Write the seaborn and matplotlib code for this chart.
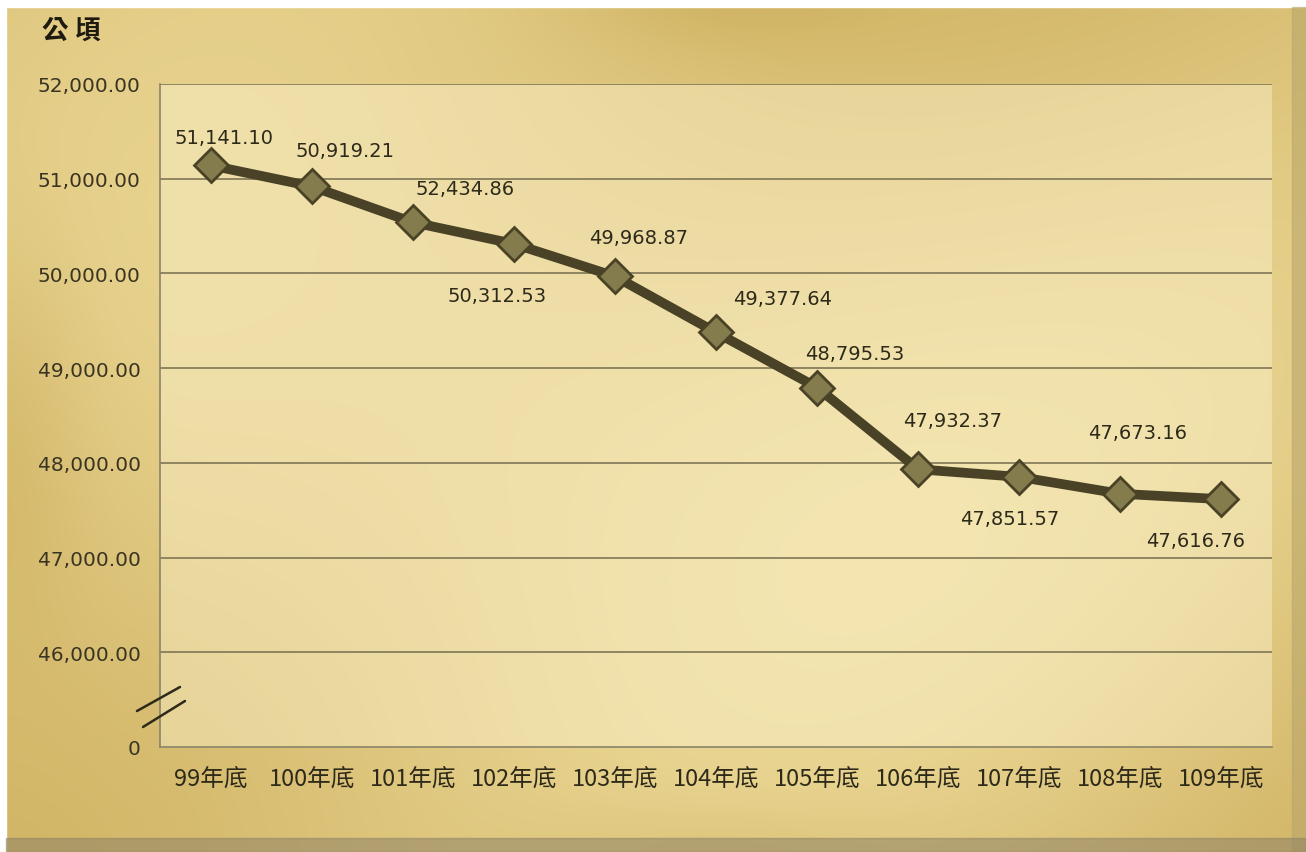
import numpy as np
import matplotlib
matplotlib.use("Agg")
import matplotlib.pyplot as plt
import seaborn as sns
from matplotlib.patches import Rectangle

# ===== DATA =====
years = ["99年底", "100年底", "101年底", "102年底", "103年底", "104年底",
         "105年底", "106年底", "107年底", "108年底", "109年底"]
areas = [51141.10, 50919.21, 50540.00, 50312.53, 49968.87, 49377.64,
         48795.53, 47932.37, 47851.57, 47673.16, 47616.76]
area_labels = ["51,141.10", "50,919.21", "52,434.86", "50,312.53", "49,968.87",
               "49,377.64", "48,795.53", "47,932.37", "47,851.57", "47,673.16",
               "47,616.76"]
y_ticks = [45000, 46000, 47000, 48000, 49000, 50000, 51000, 52000]
y_tick_labels = ["0", "46,000.00", "47,000.00", "48,000.00", "49,000.00",
                 "50,000.00", "51,000.00", "52,000.00"]

# label offsets in pixels (dx, dy) from each point
label_offsets = [(13, 28), (33, 36), (52, 34), (-17, -52), (24, 39), (67, 34),
                 (38, 34), (34, 49), (-10, -42), (17, 61), (-26, -41)]

sns.set_style("white")
plt.rcParams["font.family"] = ["DejaVu Sans"]

W, H = 1306, 853
fig = plt.figure(figsize=(W / 100, H / 100), dpi=100)

# ===== GOLD BACKGROUND =====
bg = fig.add_axes([0, 0, 1, 1], zorder=-10)
xx, yy = np.meshgrid(np.linspace(0, 1, W), np.linspace(0, 1, H))
light = 0.5 + 0.45 * np.exp(-(((xx - 0.45) / 0.5) ** 2 + ((yy - 0.5) / 0.5) ** 2))
light += 0.15 * np.sin(2 * np.pi * (0.9 * xx + 0.6 * yy) + 0.8)
light -= 0.25 * np.exp(-((xx - 0.0) / 0.07) ** 2) * np.exp(-((yy - 0.5) / 0.25) ** 2)
light -= 0.15 * np.exp(-((xx - 0.55) / 0.12) ** 2) * np.exp(-((yy - 0.0) / 0.06) ** 2)
light -= 0.15 * np.exp(-((xx - 0.55) / 0.15) ** 2) * np.exp(-((yy - 1.0) / 0.06) ** 2)
light = np.clip(light, 0, 1)
dark = np.array([0.74, 0.60, 0.25])
bright = np.array([0.94, 0.87, 0.62])
img = dark + (bright - dark) * light[..., None]
bg.imshow(img, aspect="auto", extent=[0, 1, 0, 1], origin="upper")
bg.set_xlim(0, 1)
bg.set_ylim(0, 1)
bg.axis("off")
# white margin top/left and shaded bevel right/bottom
bg.add_patch(Rectangle((0, 1 - 8 / H), 1, 8 / H, color="white"))
bg.add_patch(Rectangle((0, 0), 6 / W, 1, color="white"))
bg.add_patch(Rectangle((1 - 14 / W, 0), 14 / W, 1 - 8 / H, color="#B8A46A", alpha=0.55))
bg.add_patch(Rectangle((6 / W, 0), 1 - 6 / W, 14 / H, color="#8E8266", alpha=0.55))

# ===== PLOT AREA =====
ax = fig.add_axes([160 / W, 1 - 748 / H, (1272 - 160) / W, (748 - 85) / H])
ax.set_facecolor((1.0, 0.97, 0.84, 0.4))

x_pos = np.arange(len(years))
for yv in y_ticks[1:]:
    ax.axhline(yv, color="#756D4E", linewidth=1.1, zorder=1)

sns.lineplot(x=x_pos, y=areas, ax=ax, color="#4A4226", linewidth=7,
             marker="D", markersize=17, markerfacecolor="#857C4E",
             markeredgecolor="#4A4226", markeredgewidth=2, zorder=3)

for xp, yv, lab, (dx, dy) in zip(x_pos, areas, area_labels, label_offsets):
    ax.annotate(lab, (xp, yv), xytext=(dx, dy), textcoords="offset pixels",
                ha="center", va="center", fontsize=14, color="#2E2A1A", zorder=4)

ax.set_xlim(-0.5, len(years) - 0.5)
ax.set_ylim(45000, 52000)
ax.set_yticks(y_ticks)
ax.set_yticklabels(y_tick_labels, fontsize=14.5, color="#3A3522")
ax.set_xticks(x_pos)
ax.set_xticklabels(years, fontsize=17, color="#2E2A1A",
                   family=["Noto Sans CJK TC", "DejaVu Sans"])
ax.set_xticks(np.arange(-0.5, len(years), 1.0), minor=True)
ax.tick_params(axis="x", which="major", length=0, pad=14)
ax.tick_params(axis="x", which="minor", length=8, color="#8A8468", width=1.2)
ax.tick_params(axis="y", length=8, color="#8A8468", width=1.2, pad=6)
for side in ["top", "right"]:
    ax.spines[side].set_visible(False)
for side in ["left", "bottom"]:
    ax.spines[side].set_color("#8A8468")
    ax.spines[side].set_linewidth(1.2)
ax.set_xlabel("")
ax.set_ylabel("")

# axis break marks
for (x0, y0), (x1, y1) in [((137, 712), (180, 688)), ((143, 728), (185, 702))]:
    fig.add_artist(plt.Line2D([x0 / W, x1 / W], [1 - y0 / H, 1 - y1 / H],
                              transform=fig.transFigure, color="#2E2A1A", linewidth=1.8))

fig.text(42 / W, 1 - 31 / H, "公 頃", fontsize=19, fontweight="bold", color="#1E1A10",
         ha="left", va="center", family=["Noto Sans CJK TC", "DejaVu Sans"])

fig.savefig("out.png", dpi=100)
